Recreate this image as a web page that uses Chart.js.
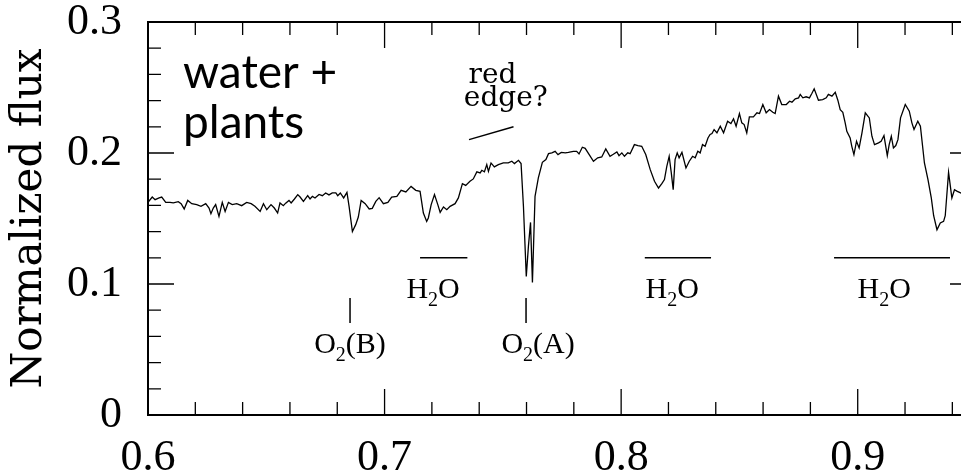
<!DOCTYPE html>
<html>
<head>
<meta charset="utf-8">
<script src="https://cdn.jsdelivr.net/npm/chart.js@4.4.1/dist/chart.umd.min.js"></script>
<style>
  html, body { margin: 0; padding: 0; background: #fff; overflow: hidden; }
  body { width: 961px; height: 475px; }
  #wrap { width: 1000px; height: 475px; }
</style>
</head>
<body>
<div id="wrap"><canvas id="spectrum" width="1000" height="475"></canvas></div>
<script>
// spectrum, wavelength in microns
const wavelength = [
  0.6000, 0.6018, 0.6030, 0.6047, 0.6058, 0.6075, 0.6093, 0.6107, 0.6128, 0.6140,
  0.6153, 0.6168, 0.6185, 0.6206, 0.6224, 0.6244, 0.6258, 0.6266, 0.6276, 0.6286,
  0.6300, 0.6314, 0.6326, 0.6340, 0.6356, 0.6375, 0.6396, 0.6417, 0.6436, 0.6452,
  0.6474, 0.6488, 0.6502, 0.6520, 0.6534, 0.6548, 0.6558, 0.6572, 0.6582, 0.6596,
  0.6605, 0.6619, 0.6633, 0.6643, 0.6657, 0.6675, 0.6685, 0.6695, 0.6706, 0.6723,
  0.6737, 0.6751, 0.6765, 0.6779, 0.6794, 0.6802, 0.6813, 0.6827, 0.6841, 0.6850,
  0.6864, 0.6878, 0.6889, 0.6901, 0.6918, 0.6935, 0.6948, 0.6963, 0.6977, 0.6995,
  0.7014, 0.7030, 0.7052, 0.7070, 0.7090, 0.7112, 0.7132, 0.7150, 0.7164, 0.7178,
  0.7185, 0.7197, 0.7211, 0.7225, 0.7235, 0.7249, 0.7263, 0.7277, 0.7298, 0.7312,
  0.7329, 0.7343, 0.7361, 0.7375, 0.7390, 0.7404, 0.7411, 0.7422, 0.7432, 0.7439,
  0.7450, 0.7464, 0.7481, 0.7502, 0.7523, 0.7538, 0.7549, 0.7566, 0.7577, 0.7587,
  0.7599, 0.7608, 0.7617, 0.7625, 0.7636, 0.7650, 0.7667, 0.7682, 0.7693, 0.7707,
  0.7721, 0.7733, 0.7747, 0.7764, 0.7777, 0.7798, 0.7812, 0.7822, 0.7836, 0.7848,
  0.7865, 0.7883, 0.7901, 0.7918, 0.7935, 0.7953, 0.7967, 0.7982, 0.7991, 0.8003,
  0.8014, 0.8028, 0.8038, 0.8056, 0.8071, 0.8087, 0.8104, 0.8123, 0.8141, 0.8158,
  0.8172, 0.8183, 0.8193, 0.8203, 0.8212, 0.8220, 0.8228, 0.8237, 0.8245, 0.8257,
  0.8274, 0.8288, 0.8302, 0.8313, 0.8324, 0.8334, 0.8344, 0.8355, 0.8367, 0.8376,
  0.8384, 0.8393, 0.8405, 0.8419, 0.8433, 0.8450, 0.8464, 0.8475, 0.8486, 0.8500,
  0.8510, 0.8520, 0.8531, 0.8542, 0.8559, 0.8574, 0.8585, 0.8599, 0.8613, 0.8627,
  0.8641, 0.8651, 0.8665, 0.8679, 0.8698, 0.8712, 0.8722, 0.8736, 0.8750, 0.8757,
  0.8768, 0.8782, 0.8796, 0.8806, 0.8816, 0.8834, 0.8852, 0.8867, 0.8876, 0.8891,
  0.8905, 0.8916, 0.8926, 0.8937, 0.8947, 0.8954, 0.8968, 0.8975, 0.8984, 0.8995,
  0.9006, 0.9018, 0.9032, 0.9049, 0.9060, 0.9071, 0.9088, 0.9099, 0.9111, 0.9125,
  0.9133, 0.9142, 0.9151, 0.9161, 0.9170, 0.9181, 0.9201, 0.9218, 0.9229, 0.9238,
  0.9254, 0.9265, 0.9282, 0.9297, 0.9311, 0.9321, 0.9335, 0.9349, 0.9363, 0.9370,
  0.9384, 0.9398, 0.9409, 0.9421, 0.9435, 0.9445
];
const flux = [
  0.1623, 0.1664, 0.1644, 0.1657, 0.1664, 0.1623, 0.1623, 0.1619, 0.1628, 0.1613,
  0.1573, 0.1638, 0.1613, 0.1606, 0.1593, 0.1613, 0.1580, 0.1537, 0.1580, 0.1606,
  0.1516, 0.1623, 0.1554, 0.1623, 0.1606, 0.1613, 0.1598, 0.1623, 0.1613, 0.1593,
  0.1554, 0.1613, 0.1567, 0.1606, 0.1580, 0.1542, 0.1619, 0.1598, 0.1617, 0.1638,
  0.1619, 0.1649, 0.1682, 0.1664, 0.1631, 0.1674, 0.1649, 0.1669, 0.1657, 0.1684,
  0.1674, 0.1695, 0.1680, 0.1695, 0.1695, 0.1674, 0.1695, 0.1657, 0.1700, 0.1593,
  0.1401, 0.1453, 0.1511, 0.1638, 0.1613, 0.1573, 0.1577, 0.1631, 0.1659, 0.1613,
  0.1623, 0.1664, 0.1669, 0.1715, 0.1703, 0.1745, 0.1715, 0.1707, 0.1542, 0.1478,
  0.1504, 0.1606, 0.1682, 0.1606, 0.1547, 0.1588, 0.1567, 0.1593, 0.1613, 0.1657,
  0.1766, 0.1753, 0.1784, 0.1802, 0.1856, 0.1848, 0.1868, 0.1856, 0.1911, 0.1860,
  0.1924, 0.1894, 0.1911, 0.1924, 0.1924, 0.1937, 0.1919, 0.1944, 0.1919, 0.1593,
  0.1057, 0.1287, 0.1470, 0.1011, 0.1669, 0.1810, 0.1929, 0.1950, 0.1995, 0.2001,
  0.2013, 0.1988, 0.2005, 0.2001, 0.2005, 0.2013, 0.2013, 0.1993, 0.2044, 0.2036,
  0.1988, 0.1937, 0.1963, 0.1970, 0.2031, 0.1975, 0.1990, 0.2008, 0.1980, 0.2001,
  0.1975, 0.2001, 0.1995, 0.2064, 0.2057, 0.2051, 0.1988, 0.1873, 0.1784, 0.1733,
  0.1766, 0.1797, 0.1898, 0.1975, 0.1848, 0.1720, 0.1950, 0.2001, 0.1963, 0.2005,
  0.1886, 0.1937, 0.1975, 0.1963, 0.2013, 0.2001, 0.2064, 0.2051, 0.2115, 0.2141,
  0.2148, 0.2179, 0.2154, 0.2204, 0.2154, 0.2242, 0.2225, 0.2261, 0.2204, 0.2301,
  0.2230, 0.2217, 0.2154, 0.2276, 0.2276, 0.2307, 0.2301, 0.2370, 0.2307, 0.2332,
  0.2311, 0.2301, 0.2434, 0.2370, 0.2370, 0.2395, 0.2388, 0.2414, 0.2421, 0.2447,
  0.2421, 0.2429, 0.2421, 0.2454, 0.2490, 0.2403, 0.2408, 0.2421, 0.2447, 0.2434,
  0.2464, 0.2403, 0.2330, 0.2311, 0.2230, 0.2166, 0.2115, 0.2051, 0.1988, 0.2090,
  0.2039, 0.2154, 0.2307, 0.2268, 0.2128, 0.2064, 0.2077, 0.2090, 0.2133, 0.1980,
  0.2064, 0.2128, 0.2039, 0.2057, 0.2102, 0.2268, 0.2370, 0.2319, 0.2230, 0.2179,
  0.2242, 0.2204, 0.1924, 0.1797, 0.1657, 0.1521, 0.1414, 0.1466, 0.1478, 0.1521,
  0.1852, 0.1657, 0.1720, 0.1707, 0.1695, 0.1688
];

const xTicks = [0.6, 0.7, 0.8, 0.9];
const xTickLabels = ["0.6", "0.7", "0.8", "0.9"];
const yTicks = [0, 0.1, 0.2, 0.3];
const yTickLabels = ["0", "0.1", "0.2", "0.3"];

// absorption bands: [start, end] and label position
const h2oBands = [[0.715, 0.735], [0.81, 0.838], [0.89, 0.939]];
const h2oLabelX = [0.7205, 0.8216, 0.9112];
const o2Lines = [0.6854, 0.7598];
const o2Names = ["B", "A"];
const o2LabelX = [0.6854, 0.7649];

const serif = "'Liberation Serif', 'DejaVu Serif', serif";

// frame with inward ticks on all four sides
const frameTicks = {
  id: "frameTicks",
  afterDatasetsDraw(chart) {
    const { ctx, chartArea: a, scales: { x, y } } = chart;
    ctx.save();
    ctx.strokeStyle = "#000";
    ctx.lineWidth = 2;
    ctx.strokeRect(a.left, a.top, a.right - a.left, a.bottom - a.top);
    ctx.lineWidth = 1.3;
    ctx.beginPath();
    for (let i = 0; i <= 17; i++) {
      const px = x.getPixelForValue(0.6 + i * 0.02);
      const len = i % 5 === 0 ? 26 : 13;
      ctx.moveTo(px, a.bottom); ctx.lineTo(px, a.bottom - len);
      ctx.moveTo(px, a.top); ctx.lineTo(px, a.top + len);
    }
    for (let i = 0; i <= 15; i++) {
      const py = y.getPixelForValue(i * 0.02);
      const len = i % 5 === 0 ? 26 : 13;
      ctx.moveTo(a.left, py); ctx.lineTo(a.left + len, py);
      ctx.moveTo(a.right, py); ctx.lineTo(a.right - len, py);
    }
    ctx.stroke();
    ctx.restore();
  }
};

// text with a subscript digit, e.g. H2O, centred on cx
function chemText(ctx, parts, cx, cy, size) {
  const big = size + "px " + serif;
  const small = Math.round(size * 0.68) + "px " + serif;
  let w = 0;
  parts.forEach(p => { ctx.font = p.sub ? small : big; w += ctx.measureText(p.t).width; });
  let px = cx - w / 2;
  ctx.textAlign = "left";
  ctx.textBaseline = "alphabetic";
  parts.forEach(p => {
    ctx.font = p.sub ? small : big;
    ctx.fillText(p.t, px, cy + (p.sub ? size * 0.28 : 0));
    px += ctx.measureText(p.t).width;
  });
}

const notes = {
  id: "notes",
  afterDraw(chart) {
    const { ctx, scales: { x, y } } = chart;
    ctx.save();
    ctx.fillStyle = "#000";
    ctx.strokeStyle = "#000";
    ctx.lineWidth = 1.5;

    ctx.font = "46px Lato, 'Open Sans', sans-serif";
    ctx.textAlign = "left";
    ctx.textBaseline = "alphabetic";
    ctx.fillText("water +", x.getPixelForValue(0.6148), y.getPixelForValue(0.25));
    ctx.fillText("plants", x.getPixelForValue(0.6148), y.getPixelForValue(0.2118));

    ctx.font = "28px 'DejaVu Serif', serif";
    ctx.fillText("red", x.getPixelForValue(0.7355), y.getPixelForValue(0.2535));
    ctx.fillText("edge?", x.getPixelForValue(0.7335), y.getPixelForValue(0.2355));
    ctx.beginPath();
    ctx.moveTo(x.getPixelForValue(0.7357), y.getPixelForValue(0.2102));
    ctx.lineTo(x.getPixelForValue(0.7545), y.getPixelForValue(0.2200));
    ctx.stroke();

    ctx.beginPath();
    h2oBands.forEach(b => {
      ctx.moveTo(x.getPixelForValue(b[0]), y.getPixelForValue(0.12));
      ctx.lineTo(x.getPixelForValue(b[1]), y.getPixelForValue(0.12));
    });
    o2Lines.forEach(v => {
      ctx.moveTo(x.getPixelForValue(v), y.getPixelForValue(0.0894));
      ctx.lineTo(x.getPixelForValue(v), y.getPixelForValue(0.0703));
    });
    ctx.stroke();

    h2oLabelX.forEach(v => {
      chemText(ctx, [{ t: "H" }, { t: "2", sub: true }, { t: "O" }],
        x.getPixelForValue(v), y.getPixelForValue(0.0895), 30);
    });
    o2LabelX.forEach((v, i) => {
      chemText(ctx, [{ t: "O" }, { t: "2", sub: true }, { t: "(" + o2Names[i] + ")" }],
        x.getPixelForValue(v), y.getPixelForValue(0.0475), 30);
    });
    ctx.restore();
  }
};

const ctx = document.getElementById("spectrum").getContext("2d");
const chart = new Chart(ctx, {
  type: "line",
  data: {
    datasets: [
      {
        data: wavelength.map((w, i) => ({ x: w, y: flux[i] })),
        borderColor: "#000",
        borderWidth: 1.3,
        pointRadius: 0,
        tension: 0,
        fill: false,
      },
    ],
  },
  options: {
    responsive: false,
    animation: false,
    layout: { padding: { left: 0, top: 22, right: 24, bottom: 0 } },
    plugins: { legend: { display: false }, tooltip: { enabled: false } },
    scales: {
      x: {
        type: "linear",
        min: 0.6,
        max: 0.95,
        grid: { display: false, drawTicks: false },
        border: { display: false },
        afterBuildTicks: s => { s.ticks = xTicks.map(v => ({ value: v })); },
        afterFit: s => { s.height = 60; s.paddingLeft = 0; s.paddingRight = 0; },
        ticks: {
          color: "#000",
          padding: 21,
          maxRotation: 0,
          autoSkip: false,
          font: { family: serif, size: 44, lineHeight: 1 },
          callback: (v, i) => xTickLabels[i],
        },
      },
      y: {
        min: 0,
        max: 0.3,
        grid: { display: false, drawTicks: false },
        border: { display: false },
        afterBuildTicks: s => { s.ticks = yTicks.map(v => ({ value: v })); },
        afterFit: s => { s.width = 148; s.paddingTop = 0; s.paddingBottom = 0; },
        ticks: {
          color: "#000",
          padding: 26,
          autoSkip: false,
          font: { family: serif, size: 44, lineHeight: 1 },
          callback: (v, i) => yTickLabels[i],
        },
        title: {
          display: true,
          text: "Normalized flux",
          color: "#000",
          padding: { top: 5, bottom: 0 },
          font: { family: "'DejaVu Serif', serif", size: 42, lineHeight: 1.2 },
        },
      },
    },
  },
  plugins: [frameTicks, notes],
});
</script>
</body>
</html>
